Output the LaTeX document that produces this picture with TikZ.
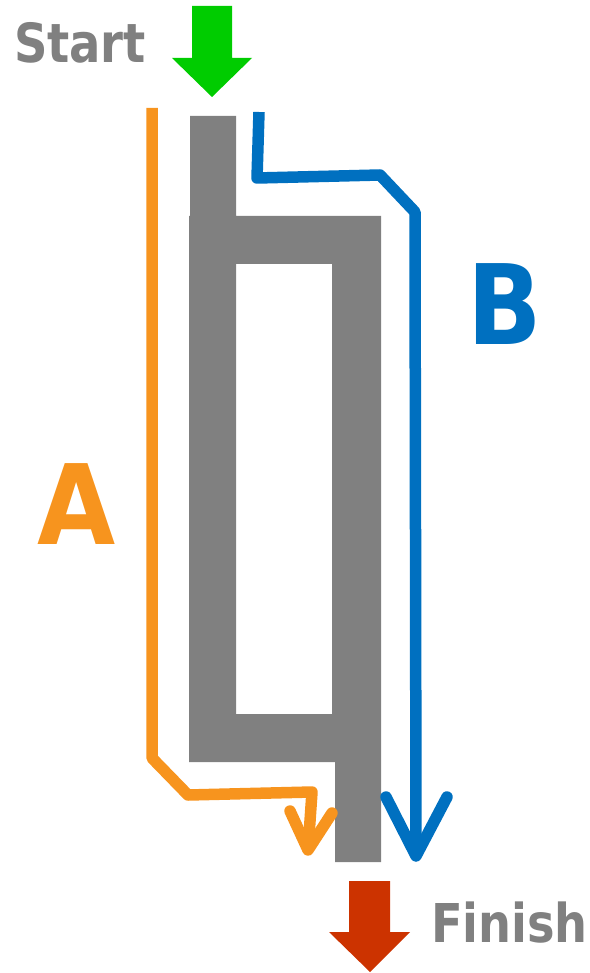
\documentclass[tikz,border=0pt]{standalone}
\usepackage{fontspec}
\usepackage{graphicx}
\newfontfamily\lblfont{DejaVu Sans}
\definecolor{pipegray}{RGB}{128,128,128}
\definecolor{pathA}{RGB}{247,148,30}
\definecolor{pathB}{RGB}{0,112,192}
\definecolor{startgreen}{RGB}{0,204,0}
\definecolor{finishred}{RGB}{204,51,0}
\tikzset{
  route/.style={line width=11.5pt, line join=round, line cap=butt},
  routehead/.style={line width=11.5pt, line join=round, line cap=round},
  bigarrow/.style={draw=none},
  lbl/.style={inner sep=0pt, outer sep=0pt, anchor=base west, text=pipegray},
  bigletter/.style={inner sep=0pt, outer sep=0pt, anchor=base}
}
\begin{document}
\begin{tikzpicture}[x=1pt,y=-1pt]
\useasboundingbox (0,0) rectangle (589,973);
% gray pipe network
\fill[pipegray, even odd rule]
  (190,116) -- (236,116) -- (236,216) -- (381,216) -- (381,862) -- (335,862) -- (335,762) -- (189,762) -- (189,216) -- (190,216) -- cycle
  (236,264) -- (332,264) -- (332,714) -- (236,714) -- cycle;
% start arrow
\fill[startgreen, bigarrow] (192,6) -- (232,6) -- (232,58) -- (252,58) -- (212,97) -- (172,58) -- (192,58) -- cycle;
% finish arrow
\fill[finishred, bigarrow] (349,881) -- (390,881) -- (390,932) -- (410,932) -- (370,972) -- (329,932) -- (349,932) -- cycle;
% route A
\coordinate (a0) at (152,108);
\coordinate (a1) at (152,758);
\coordinate (a2) at (188,795);
\coordinate (a3) at (312,792);
\coordinate (atip) at (308,850);
\coordinate (aL) at (290,811);
\coordinate (aR) at (332,813);
\draw[route, pathA] (a0) -- (a1) -- (a2) -- (a3) -- (atip);
\draw[routehead, pathA] (aL) -- (atip) -- (aR);
% route B
\coordinate (b0) at (259,112);
\coordinate (b1) at (257,178);
\coordinate (b2) at (380,175);
\coordinate (b3) at (415,212);
\coordinate (btip) at (416,856);
\coordinate (bL) at (386,797);
\coordinate (bR) at (447,797);
\draw[route, pathB] (b0) -- (b1) -- (b2) -- (b3) -- (btip);
\draw[routehead, pathB] (bL) -- (btip) -- (bR);
% labels
\node[lbl] (start) at (14,63) {\scalebox{0.86}[1]{\lblfont\bfseries\fontsize{54}{54}\selectfont Start}};
\node[lbl] (finish) at (431,942) {\scalebox{0.866}[1]{\lblfont\bfseries\fontsize{53.5}{53.5}\selectfont Finish}};
\node[bigletter, text=pathA] (labA) at (77,544) {\scalebox{0.91}[1]{\lblfont\bfseries\fontsize{111}{111}\selectfont A}};
\node[bigletter, text=pathB] (labB) at (505,344) {\scalebox{0.88}[1]{\lblfont\bfseries\fontsize{111}{111}\selectfont B}};
\end{tikzpicture}
\end{document}
